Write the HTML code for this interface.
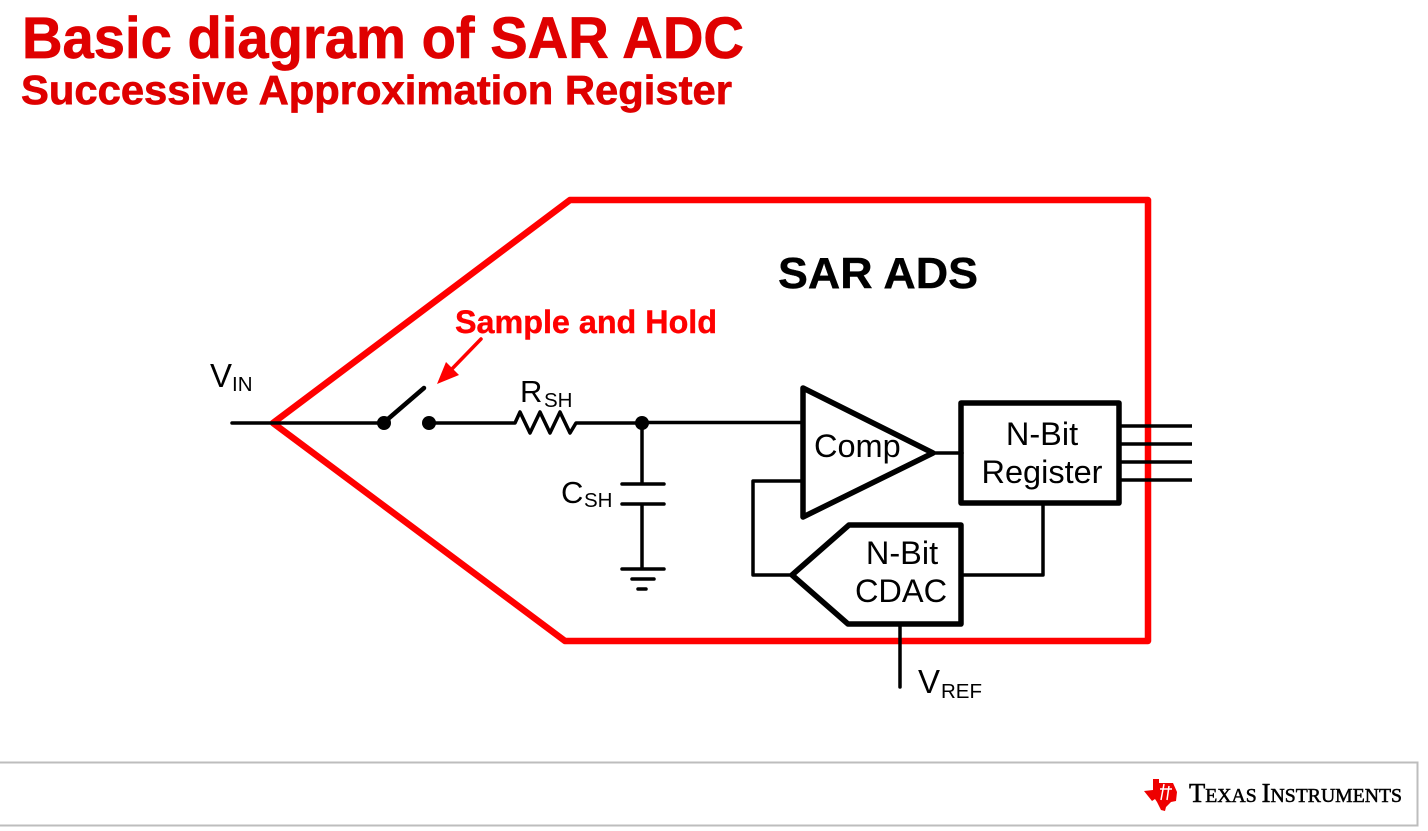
<!DOCTYPE html>
<html>
<head>
<meta charset="utf-8">
<style>
html,body{margin:0;padding:0;background:#fff;width:1428px;height:831px;overflow:hidden}
svg{display:block}
text{font-family:"Liberation Sans",Arial,sans-serif;fill:#000}
.b{font-weight:bold;stroke:#000;stroke-width:.4}
.t{fill:#df0000;font-weight:bold;stroke:#df0000;stroke-width:.7}
.k{fill:none;stroke:#000;stroke-linecap:round;stroke-linejoin:round}
</style>
</head>
<body>
<svg width="1428" height="831" viewBox="0 0 1428 831" xmlns="http://www.w3.org/2000/svg">
<rect width="1428" height="831" fill="#fff"/>

<text class="t" x="22" y="58" font-size="58" textLength="722" lengthAdjust="spacingAndGlyphs">Basic diagram of SAR ADC</text>
<text class="t" x="21" y="104" font-size="41" textLength="711" lengthAdjust="spacingAndGlyphs">Successive Approximation Register</text>

<!-- Outer red outline -->
<polygon points="273,423 570,200 1148,200 1148,641 565,641" fill="none" stroke="#f00" stroke-width="6.500" stroke-linejoin="round"/>

<text class="b" x="778" y="288" font-size="44" textLength="200" lengthAdjust="spacingAndGlyphs">SAR ADS</text>
<text class="b" x="455" y="333" font-size="32" textLength="262" lengthAdjust="spacingAndGlyphs" style="fill:#f00;stroke:#f00">Sample and Hold</text>

<!-- Red arrow -->
<line x1="481" y1="339" x2="449" y2="372" stroke="#f00" stroke-width="3.500" stroke-linecap="round"/>
<polygon points="437,384 446,362 459,375" fill="#f00"/>

<!-- Input and switch -->
<g class="k" stroke-width="3.500">
<path d="M232,423H384"/>
<path d="M429,423H515L520,412L530,433L540,412L550,433L560,412L570,433L576,423H642"/>
<path d="M642,422.500H802"/>
<path d="M642,423V484M622,484H664M622,504H664M642,504V569M622,569H664M632,579H654M638,589H646"/>
</g>
<line class="k" x1="388" y1="419" x2="424" y2="388" stroke-width="4.500"/>
<circle cx="384" cy="423" r="7"/>
<circle cx="429" cy="423" r="7"/>
<circle cx="642" cy="423" r="7"/>

<text x="210" y="387" font-size="33">V</text>
<text x="232" y="391" font-size="20.500">IN</text>
<text x="520" y="402" font-size="31">R</text>
<text x="544" y="407" font-size="20.500">SH</text>
<text x="561" y="503" font-size="31">C</text>
<text x="584" y="507" font-size="20.500">SH</text>

<!-- Connectors right side -->
<g class="k" stroke-width="3.500">
<path d="M933,453H962"/>
<path d="M802,481H753V575H792"/>
<path d="M961,575H1043V503"/>
<path d="M900,624V687"/>
<path d="M1119,426H1192M1119,444H1192M1119,462H1192M1119,480H1192" stroke-linecap="butt"/>
</g>

<!-- Blocks -->
<polygon class="k" points="803,388 933,453 803,517" stroke-width="5.500"/>
<rect class="k" x="961" y="403" width="158" height="100" stroke-width="5.500"/>
<polygon class="k" points="792,575 849,525 961,525 961,624 848,624" stroke-width="5.500"/>

<text x="814" y="457" font-size="32.500">Comp</text>
<text x="1042" y="445" font-size="32.500" text-anchor="middle">N-Bit</text>
<text x="1042" y="483" font-size="32.500" text-anchor="middle">Register</text>
<text x="902" y="564" font-size="32.500" text-anchor="middle">N-Bit</text>
<text x="901" y="602" font-size="32.500" text-anchor="middle">CDAC</text>

<text x="918" y="693" font-size="33">V</text>
<text x="941" y="698" font-size="20.500">REF</text>

<!-- Footer -->
<path d="M0,762.500H1417.500V825.500H0" fill="none" stroke="#bdbdbd" stroke-width="2"/>

<!-- Logo -->
<polygon fill="#ee0000" points="1153,779 1159,779 1159,783 1173,783 1177,792 1176,801 1171,802 1166,807 1165,811 1161,810 1157,802 1155,799 1152,801 1144,791 1153,790" />
<path d="M1164,784L1161,800M1169,786L1167,800M1160,789H1172" stroke="#fff" stroke-width="1.500" fill="none"/>
<text x="1189" y="802" textLength="213" lengthAdjust="spacingAndGlyphs" style='font-family:"Liberation Serif",serif;font-size:20px;stroke:#000;stroke-width:.55'><tspan font-size="27">T</tspan>EXAS <tspan font-size="27">I</tspan>NSTRUMENTS</text>
</svg>
</body>
</html>
